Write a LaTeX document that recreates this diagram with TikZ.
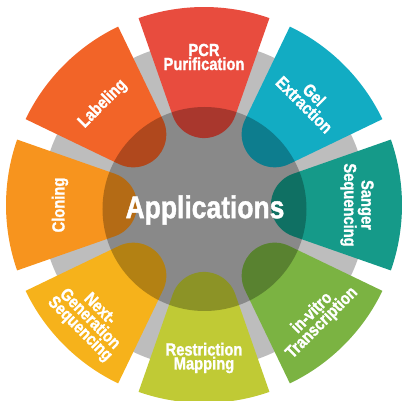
\documentclass[tikz,border=0pt]{standalone}
\usepackage{fontspec}
\setmainfont{Liberation Sans}[FakeStretch=0.84, BoldFeatures={FakeBold=1.3}]
\definecolor{ringgray}{HTML}{BDBDBD}
\definecolor{pcrred}{HTML}{E84C3E}
\definecolor{gelcyan}{HTML}{12ACC3}
\definecolor{sangerteal}{HTML}{159A89}
\definecolor{ivtgreen}{HTML}{7BB342}
\definecolor{restrlime}{HTML}{C0CA35}
\definecolor{ngsyellow}{HTML}{F6B21B}
\definecolor{cloneorange}{HTML}{F7941E}
\definecolor{labelorange}{HTML}{F26428}
\begin{document}
\begin{tikzpicture}[x=1pt, y=1pt, font=\bfseries,
    lbl/.style={text=white, align=center, inner sep=0pt, font=\bfseries\fontsize{17.5}{14}\selectfont}]
	% --- Configuration ---
	\def\Rout{198} \def\Rring{163} \def\half{19.3} \def\capd{100}
	\useasboundingbox (-204,-196) rectangle (200,205);
	% --- Light gray ring ---
	\fill[ringgray] (0,0) circle (\Rring);
	% --- Coloured sectors with rounded inner tabs ---
	\foreach \a/\col in {90/pcrred, 45/gelcyan, 0/sangerteal, -45/ivtgreen, -90/restrlime, -135/ngsyellow, 180/cloneorange, 135/labelorange}
	\fill[\col] ({\a-\half}:\Rout) arc[start angle={\a-\half}, end angle={\a+\half}, radius=\Rout]
		-- ({\a+\half}:{\capd*cos(\half)})
		arc[start angle={\a+\half+90}, end angle={\a-\half+270}, radius={\capd*sin(\half)}] -- cycle;
	% --- Central circle ---
	\fill[black, opacity=0.27] (0.5,-4) circle (102);
	\node[text=white, inner sep=0pt, font=\bfseries\fontsize{31.5}{32}\selectfont] (apps) at (1,-5) {Applications};
	% --- Labels ---
	\foreach \a/\r/\rot/\name/\txt in {90/148/0/pcr/{PCR\\Purification}, 45/149/-45/gel/{Gel\\Extraction},
		0/153/-90/sanger/{Sanger\\Sequencing}, -45/160/45/ivt/{in-vitro\\Transcription},
		-90/153/0/restr/{Restriction\\Mapping}, -135/162/-45/ngs/{Next-\\Generation\\Sequencing},
		180/144/90/cloning/{Cloning}, 135/143/45/labeling/{Labeling}}
	\node[lbl, rotate=\rot] (\name) at (\a:\r) {\txt};
\end{tikzpicture}
\end{document}
